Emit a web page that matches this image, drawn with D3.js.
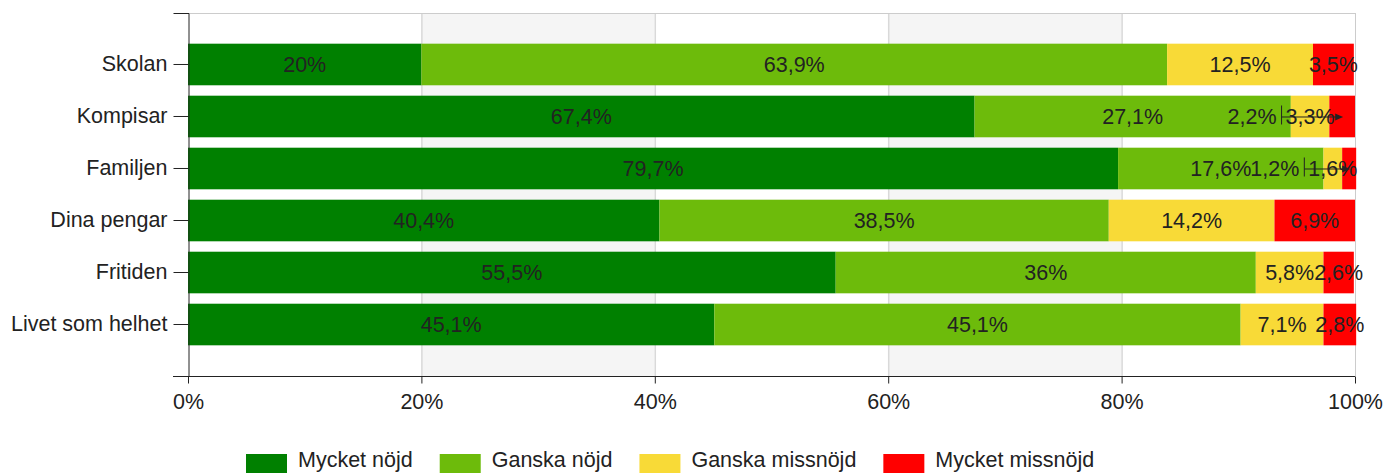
<!DOCTYPE html>
<html><head><meta charset="utf-8">
<script src="https://cdn.jsdelivr.net/npm/d3@7"></script>
<style>html,body{margin:0;padding:0;background:#fff;}svg{display:block;font-family:Arial,"Liberation Sans",sans-serif;}</style>
</head><body>
<svg id="chart" width="1384" height="473"></svg>
<script>
const categories = ["Skolan","Kompisar","Familjen","Dina pengar","Fritiden","Livet som helhet"];
const seriesNames = ["Mycket nöjd","Ganska nöjd","Ganska missnöjd","Mycket missnöjd"];
const mycketNojd = [20, 67.4, 79.7, 40.4, 55.5, 45.1];
const ganskaNojd = [63.9, 27.1, 17.6, 38.5, 36, 45.1];
const ganskaMissnojd = [12.5, 3.3, 1.6, 14.2, 5.8, 7.1];
const mycketMissnojd = [3.5, 2.2, 1.2, 6.9, 2.6, 2.8];
const xTicks = [0, 20, 40, 60, 80, 100];

const colors = ["#008000", "#6dbb0b", "#f8da37", "#ff0000"];
const FONT = 21.5;
const svg = d3.select("#chart");
const X0 = 188, X1 = 1355, Y0 = 13, Y1 = 376;
const x = d3.scaleLinear().domain([0, 100]).range([X0, X1]);
const y = d3.scaleBand().domain(categories).range([Y0, Y1]).paddingInner(0.2).paddingOuter(0.59);
const color = d3.scaleOrdinal().domain(seriesNames).range(colors);
const fmt = v => String(v).replace(".", ",") + "%";

// background bands
const bands = [[20,40],[60,80]];
svg.append("g").selectAll("rect").data(bands).join("rect")
  .attr("x", d => x(d[0])).attr("width", d => x(d[1]) - x(d[0]))
  .attr("y", Y0).attr("height", Y1 - Y0).attr("fill", "#f5f5f5");
// gridlines
svg.append("g").selectAll("line").data(xTicks.filter(t => t > 0 && t < 100)).join("line")
  .attr("x1", d => x(d) + 0.5).attr("x2", d => x(d) + 0.5).attr("y1", Y0).attr("y2", Y1)
  .attr("stroke", "#d9d9d9").attr("stroke-width", 1.5);
svg.append("line").attr("x1", X0).attr("x2", X1).attr("y1", Y0 + 0.5).attr("y2", Y0 + 0.5).attr("stroke", "#cccccc");
svg.append("line").attr("x1", X1 + 0.5).attr("x2", X1 + 0.5).attr("y1", Y0).attr("y2", Y1).attr("stroke", "#cccccc");

// stacked data
const rows = categories.map((c, i) => ({cat: c, "Mycket nöjd": mycketNojd[i], "Ganska nöjd": ganskaNojd[i], "Ganska missnöjd": ganskaMissnojd[i], "Mycket missnöjd": mycketMissnojd[i]}));
const stacked = d3.stack().keys(seriesNames)(rows);

const barG = svg.append("g");
stacked.forEach(layer => {
  barG.append("g").attr("fill", color(layer.key)).selectAll("rect").data(layer).join("rect")
    .attr("x", d => x(d[0])).attr("width", d => x(d[1]) - x(d[0]))
    .attr("y", d => y(d.data.cat)).attr("height", y.bandwidth());
});

// labels
const labG = svg.append("g").attr("font-size", FONT).attr("fill", "#222");
categories.forEach((c, ci) => {
  const cy = y(c) + y.bandwidth() / 2;
  const texts = [];
  stacked.forEach((layer, li) => {
    const d = layer[ci];
    const v = rows[ci][layer.key];
    const cx = (x(d[0]) + x(d[1])) / 2;
    const t = labG.append("text").attr("x", cx).attr("y", cy).attr("dy", "0.35em")
      .attr("text-anchor", "middle").text(fmt(v));
    const w = t.node().getComputedTextLength();
    texts.push({t, cx, w, left: cx - w / 2, right: cx + w / 2});
  });
  // last label overlapping previous one -> displace with leader
  const a = texts[2], b = texts[3];
  if (b.left < a.right - 2) {
    const vx = a.left - 4;
    b.t.attr("text-anchor", "end").attr("x", vx - 5);
    labG.append("line").attr("x1", vx).attr("x2", vx).attr("y1", cy - 11).attr("y2", cy + 8)
      .attr("stroke", "#222").attr("stroke-width", 1);
    labG.append("line").attr("x1", vx).attr("x2", b.cx - 6).attr("y1", cy + 0.5).attr("y2", cy + 0.5)
      .attr("stroke", "#222").attr("stroke-width", 1);
    labG.append("path").attr("d", `M${b.cx - 7},${cy - 3}L${b.cx + 1},${cy + 0.5}L${b.cx - 7},${cy + 4}Z`).attr("fill", "#222");
  }
});

// axes
const yAxis = d3.axisLeft(y).tickSizeInner(15).tickSizeOuter(15).tickPadding(6);
const yg = svg.append("g").attr("transform", `translate(${X0 + 0.5},0)`).call(yAxis);
yg.selectAll("text").attr("font-size", FONT).attr("font-family", "Arial, 'Liberation Sans', sans-serif").attr("fill", "#222");
yg.selectAll("line,path").attr("stroke", "#222");

const xAxis = d3.axisBottom(x).tickValues(xTicks).tickFormat(d => d + "%").tickSizeInner(7).tickSizeOuter(0).tickPadding(10);
const xg = svg.append("g").attr("transform", `translate(0,${Y1 + 0.5})`).call(xAxis);
xg.selectAll("text").attr("font-size", FONT).attr("font-family", "Arial, 'Liberation Sans', sans-serif").attr("fill", "#222");
xg.selectAll("line,path").attr("stroke", "#222");
xg.select(".domain").attr("d", `M${X0 - 15},0H${X1}`);

// legend
const lg = svg.append("g").attr("font-size", FONT).attr("fill", "#222");
let lx = 246;
seriesNames.forEach(s => {
  lg.append("rect").attr("x", lx).attr("y", 454).attr("width", 41).attr("height", 19).attr("fill", color(s));
  const t = lg.append("text").attr("x", lx + 52).attr("y", 459.5).attr("dy", "0.35em").text(s);
  lx += 52 + t.node().getComputedTextLength() + 27;
});
</script>
</body></html>
